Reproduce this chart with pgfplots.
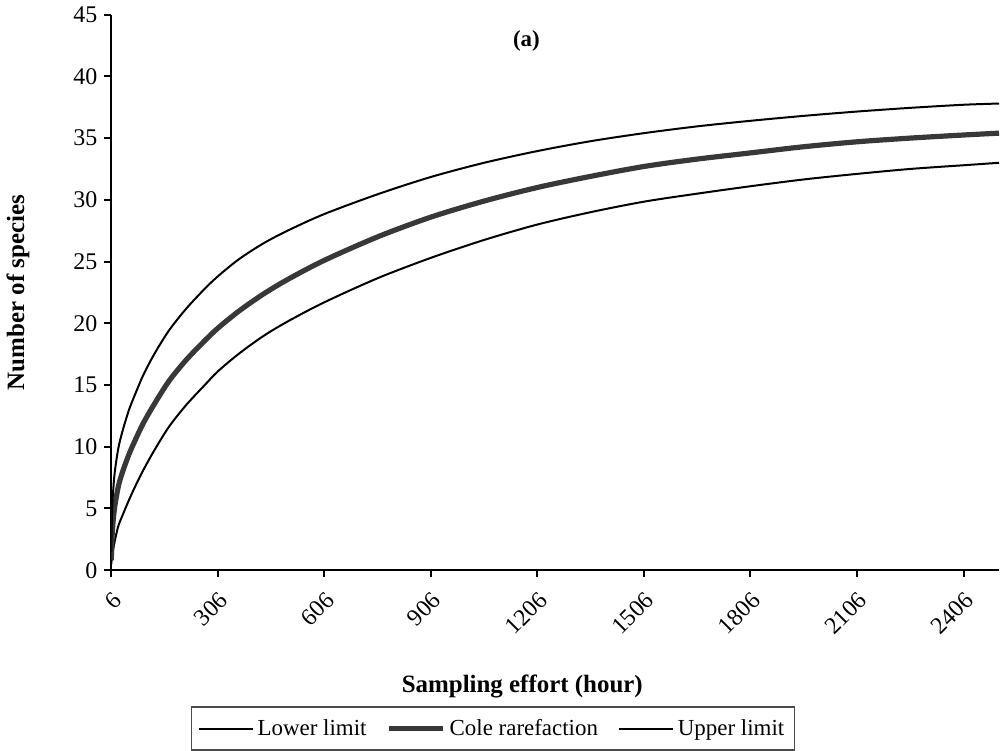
\documentclass[border=0pt]{standalone}
\usepackage{pgfplots}
\pgfplotsset{compat=1.18}
\usepackage{fontspec}
\setmainfont{Liberation Serif}

% Cole rarefaction curve with its confidence limits
\begin{document}
\begin{tikzpicture}
\begin{axis}[
    scale only axis,
    width=445pt, height=278.5pt,
    xmin=6, xmax=2506,
    ymin=0, ymax=45,
    xtick={6,306,...,2406},
    ytick={0,5,...,45},
    axis x line*=bottom,
    axis y line*=left,
    tick align=outside,
    major tick length=3.5pt,
    axis line style={line width=1pt},
    every tick/.style={line width=1pt, black},
    /pgf/number format/assume math mode=true,
    /pgf/number format/1000 sep={},
    tick label style={font=\fontsize{12}{13}\selectfont},
    x tick label style={rotate=45, anchor=north east, inner sep=4.5pt},
    xlabel={\textbf{Sampling effort (hour)}},
    ylabel={\textbf{Number of species}},
    label style={font=\fontsize{12.5}{14}\selectfont},
    xlabel style={at={(axis description cs:0.463,-0.21)}, anchor=center},
    ylabel style={at={(axis description cs:-0.105,0.5)}, anchor=center},
    legend columns=3,
    legend style={at={(axis description cs:0.43,-0.285)}, anchor=center,
        draw=black!70, line width=0.6pt, font=\fontsize{11.5}{13}\selectfont,
        inner xsep=3pt, inner ysep=4pt,
        /tikz/every even column/.append style={column sep=8pt}},
    legend image code/.code={\draw[#1] (0cm,0cm) -- (0.95cm,0cm);},
]
\addplot[black, line width=1pt, smooth] coordinates {
(6,0.5) (8,1.1) (11,1.6) (16,2.4) (26,3.6) (37,4.4) (56,5.7) (76,6.95) (96,8.1)
(126,9.65) (168,11.6) (216,13.35) (266,14.9) (306,16.1) (366,17.55) (436,19.0)
(506,20.2) (606,21.7) (756,23.65) (906,25.3) (1056,26.75) (1206,28.0)
(1356,29.0) (1506,29.85) (1656,30.5) (1806,31.1) (1956,31.65) (2106,32.1)
(2256,32.5) (2406,32.8) (2506,33.0)
};
\addlegendentry{Lower limit}
\addplot[black!78, line width=2.6pt, smooth] coordinates {
(6,0.8) (8,2.6) (11,3.9) (16,5.2) (26,6.8) (37,7.9) (56,9.4) (76,10.7) (96,11.9)
(126,13.4) (168,15.3) (216,17.0) (266,18.5) (306,19.6) (366,21.0) (436,22.4)
(506,23.6) (606,25.1) (756,27.0) (906,28.6) (1056,29.9) (1206,31.0)
(1356,31.9) (1506,32.7) (1656,33.3) (1806,33.8) (1956,34.3) (2106,34.7)
(2256,35.0) (2406,35.25) (2506,35.4)
};
\addlegendentry{Cole rarefaction}
\addplot[black, line width=1pt, smooth] coordinates {
(6,1.5) (8,4.6) (11,6.3) (16,8.0) (26,9.9) (37,11.2) (56,13.0) (76,14.45) (96,15.8)
(126,17.45) (168,19.4) (216,21.15) (266,22.7) (306,23.8) (366,25.2) (436,26.5)
(506,27.55) (606,28.85) (756,30.45) (906,31.85) (1056,33.0) (1206,33.95)
(1356,34.75) (1506,35.4) (1656,35.95) (1806,36.4) (1956,36.8) (2106,37.15)
(2256,37.45) (2406,37.7) (2506,37.8)
};
\addlegendentry{Upper limit}
\node[font=\bfseries\fontsize{11.5}{12}\selectfont] at (axis cs:1175,42.9) {(a)};
\end{axis}
\end{tikzpicture}
\end{document}
